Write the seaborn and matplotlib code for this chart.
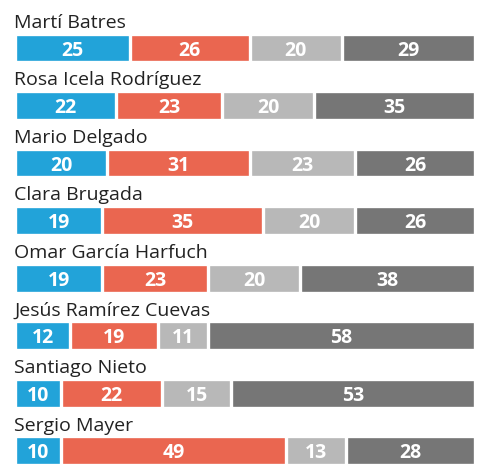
import matplotlib
matplotlib.use("Agg")
import matplotlib.pyplot as plt
import seaborn as sns
import pandas as pd
import numpy as np

names = ["Martí Batres", "Rosa Icela Rodríguez", "Mario Delgado", "Clara Brugada",
         "Omar García Harfuch", "Jesús Ramírez Cuevas", "Santiago Nieto", "Sergio Mayer"]
seg1 = [25, 22, 20, 19, 19, 12, 10, 10]
seg2 = [26, 23, 31, 35, 23, 19, 22, 49]
seg3 = [20, 20, 23, 20, 20, 11, 15, 13]
seg4 = [29, 35, 26, 26, 38, 58, 53, 28]
colors = ["#22a3d9", "#ea6650", "#b8b8b8", "#767676"]

segs = np.array([seg1, seg2, seg3, seg4], dtype=float)
cum = np.cumsum(segs, axis=0)

sns.set_theme(style="white")
plt.rcParams['font.family'] = ['Open Sans', 'DejaVu Sans']

fig = plt.figure(figsize=(4.78, 4.68), dpi=100)
ax = fig.add_axes([15/478, 0, 460/478, 1])

# draw from the right-most cumulative total back to the first segment
for k in range(3, -1, -1):
    df = pd.DataFrame({"name": names, "value": cum[k]})
    sns.barplot(data=df, x="value", y="name", orient="h", color=colors[k],
                width=0.50, edgecolor="white", linewidth=2.4, saturation=1,
                ax=ax)

for i, n in enumerate(names):
    ax.text(-0.2, i - 0.35, n, ha="left", va="baseline", fontsize=14,
            color="#222222")
    left = 0
    for k in range(4):
        v = segs[k][i]
        ax.text(left + v / 2, i, f"{int(v)}", ha="center", va="center_baseline",
                fontsize=14, fontweight="bold", color="white")
        left += v

ax.set_xlim(0, 100)
ax.set_ylim(7.30, -0.835)
ax.axis("off")
fig.savefig("out.png", dpi=100, facecolor="white")
